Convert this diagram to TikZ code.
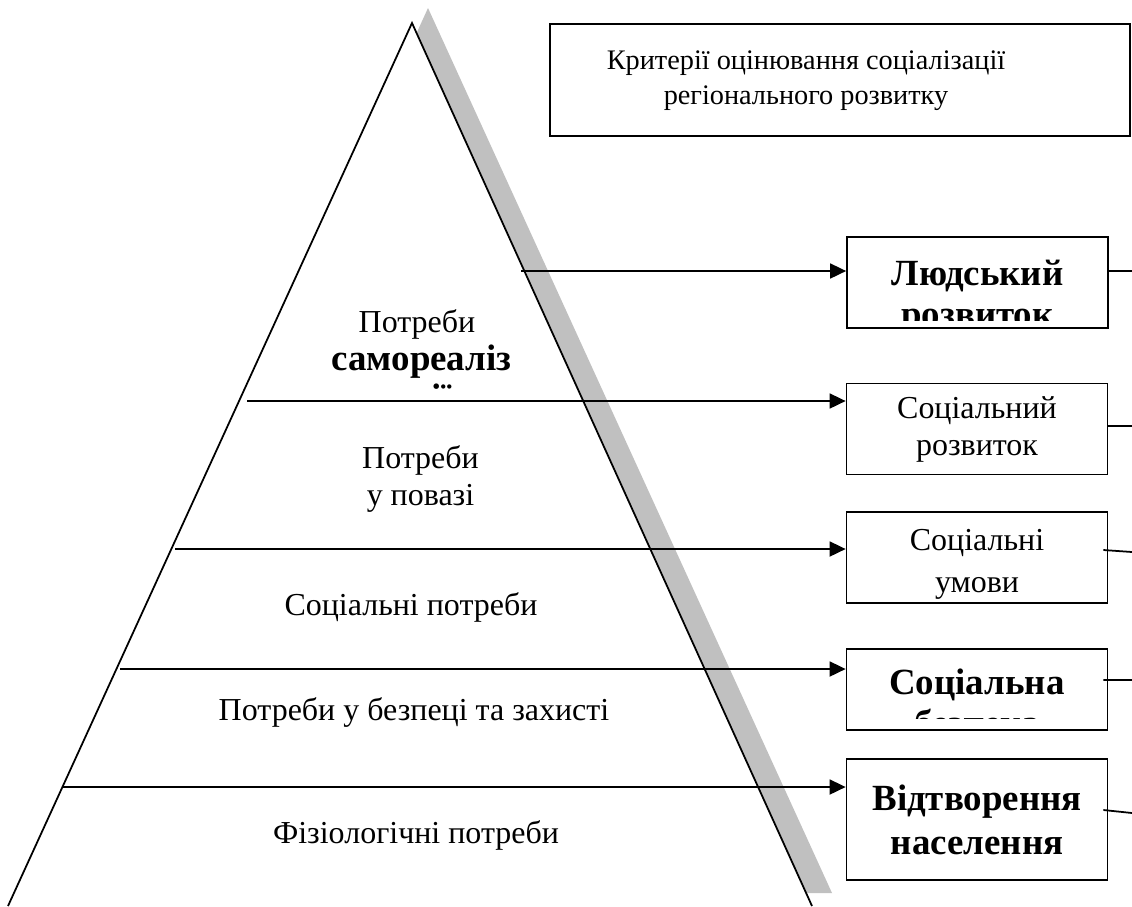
\documentclass[tikz,border=0pt]{standalone}
\usepackage{fontspec}
\setmainfont{Liberation Serif}
\usetikzlibrary{arrows.meta}
\definecolor{shadowgray}{RGB}{192,192,192}
\tikzset{
  line/.style={line width=1pt},
  arrow/.style={line width=1pt, -{Triangle[length=0.32cm, width=0.30cm]}},
  critbox/.style={draw, line width=1pt, minimum width=5.22cm, minimum height=1.82cm, inner sep=0pt, align=center},
  plaintext/.style={font=\fontsize{18.2}{21}\selectfont, align=center, inner sep=0pt},
  titletext/.style={font=\fontsize{16.1}{20}\selectfont, align=center, inner sep=0pt},
  boldtext/.style={font=\fontsize{21}{25}\selectfont\bfseries, align=center, inner sep=0pt},
}

\begin{document}
\begin{tikzpicture}
\useasboundingbox (0,0) rectangle (22.64,-18.12);
% pyramid with its shadow
\fill[shadowgray] (8.56,-0.16) -- (16.64,-17.86) -- (0.50,-17.86) -- cycle;
\fill[white] (8.24,-0.46) -- (16.24,-18.12) -- (0.16,-18.12) -- cycle;
\draw[line] (0.16,-18.12) -- (8.24,-0.46) -- (16.24,-18.12);

% levels of needs
\begin{scope}
\clip (4.0,-5.6) rectangle (12.5,-7.79);
\node[plaintext, anchor=base] (selfneed) at (8.34,-6.64) {Потреби};
\node[boldtext, anchor=base] (selfword) at (8.43,-7.40) {самореаліз};
\node[boldtext, anchor=base] (selfend) at (8.43,-8.18) {ації};
\end{scope}
\node[plaintext] (esteem) at (8.41,-9.58) {Потреби\\у повазі};
\node[plaintext] (socialneeds) at (8.22,-12.14) {Соціальні потреби};
\node[plaintext] (safety) at (8.28,-14.24) {Потреби у безпеці та захисті};
\node[plaintext] (physio) at (8.32,-16.70) {Фізіологічні потреби};

% criteria
\node[critbox, minimum width=11.6cm, minimum height=2.24cm] (title) at (16.80,-1.60) {};
\node[titletext] (titlelabel) at (16.12,-1.62) {Критерії оцінювання соціалізації\\регіонального розвитку};

\node[critbox] (human) at (19.55,-5.65) {};
\begin{scope}
\clip (17.0,-4.80) rectangle (22.1,-6.40);
\node[boldtext, anchor=base] (humantext) at (19.55,-5.70) {Людський};
\node[boldtext, anchor=base] (humanend) at (19.55,-6.52) {розвиток};
\end{scope}
\node[critbox, plaintext] (social) at (19.54,-8.58) {Соціальний\\розвиток};
\node[critbox] (conditions) at (19.54,-11.15) {};
\node[plaintext] (conditionstext) at (19.54,-11.29) {Соціальні\\[3pt]умови};
\node[critbox, minimum height=1.62cm] (security) at (19.54,-13.79) {};
\begin{scope}
\clip (17.0,-13.0) rectangle (22.1,-14.36);
\node[boldtext, anchor=base] (securitytext) at (19.54,-13.88) {Соціальна};
\node[boldtext, anchor=base] (securityend) at (19.54,-14.70) {безпека};
\end{scope}
\node[critbox, boldtext, minimum height=2.42cm] (reproduction) at (19.54,-16.39) {Відтворення\\населення};

% arrows from the levels
\coordinate (s1) at (10.42,-5.42);
\coordinate (s2) at (4.94,-8.02);
\coordinate (s3) at (3.50,-10.98);
\coordinate (s4) at (2.40,-13.38);
\coordinate (s5) at (1.26,-15.74);
\draw[arrow] (s1) -- (s1 -| human.west);
\draw[arrow] (s2) -- (s2 -| social.west);
\draw[arrow] (s3) -- (s3 -| conditions.west);
\draw[arrow] (s4) -- (s4 -| security.west);
\draw[arrow] (s5) -- (s5 -| reproduction.west);

% lines leaving the page
\coordinate (o1) at (22.64,-5.42);
\coordinate (o2) at (22.64,-8.52);
\coordinate (o3) at (22.64,-11.04);
\coordinate (o4) at (22.64,-13.60);
\coordinate (o5) at (22.64,-16.26);
\draw[line] (s1 -| human.east) -- (o1);
\draw[line] (social.east |- o2) -- (o2);
\draw[line] ([shift={(-0.1,0.15)}]conditions.east) -- (o3);
\draw[line] ([shift={(-0.1,0.19)}]security.east) -- (o4);
\draw[line] ([shift={(-0.1,0.19)}]reproduction.east) -- (o5);
\end{tikzpicture}
\end{document}
